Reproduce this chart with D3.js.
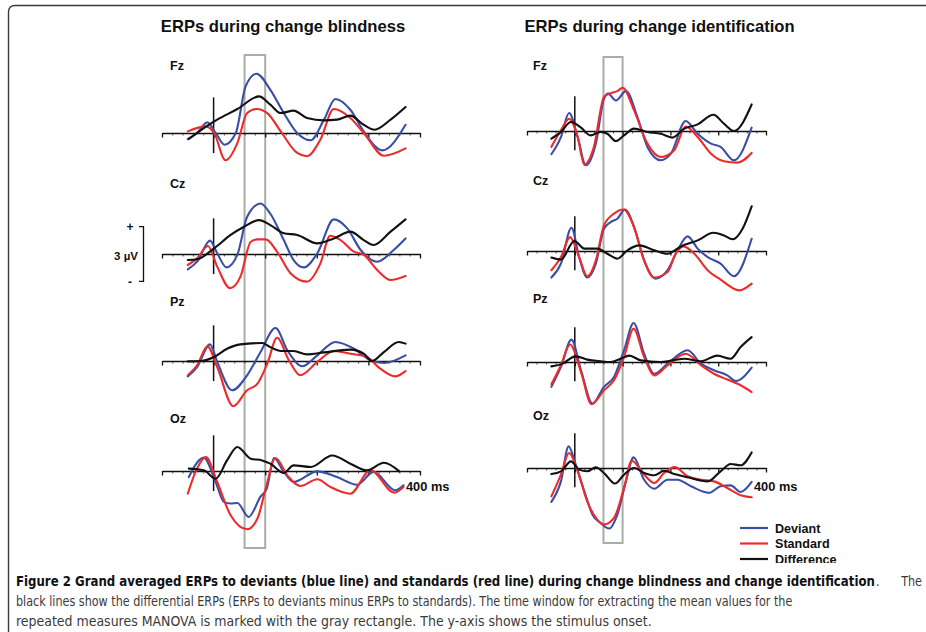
<!DOCTYPE html>
<html>
<head>
<meta charset="utf-8">
<script src="https://cdn.jsdelivr.net/npm/d3@7"></script>
<style>
  html, body { margin: 0; padding: 0; background: #fff; }
  svg { display: block; }
</style>
</head>
<body>
<svg id="fig" width="926" height="632"></svg>
<script>
// ---- data: grand-average ERPs, [time in ms, amplitude in µV] ----
const channels = ["Fz", "Cz", "Pz", "Oz"];
const conditionTitles = ["ERPs during change blindness", "ERPs during change identification"];
const seriesNames = ["Deviant", "Standard", "Difference"];
const timeTicks = [-100, 0, 100, 200, 300, 400];
const minorTicks = [-80, -60, -40, -20, 20, 40, 60, 80, 120, 140, 160, 180, 220, 240, 260, 280, 320, 340, 360, 380];
const analysisWindow = [60, 100];
const timeEndLabel = "400 ms";
const scaleBarLabel = "3 µV";
const scaleBarMicrovolts = 3;

// change blindness
const blindFzDeviant = [[-50,-0.33],[-32,0],[-12,0.58],[4,0],[21,-0.64],[43,0],[62,2.55],[83,3.24],[110,2.36],[136,1.09],[162,0],[188,-0.4],[214,0.73],[236,1.86],[265,1.27],[291,0.09],[327,-0.95],[372,0.45]];
const blindFzStandard = [[-50,0.09],[-15,0.36],[1,0],[23,-1.49],[46,-0.55],[65,1.09],[83,1.31],[104,1.09],[130,0.09],[162,-1.09],[181,-1.27],[207,-0.36],[233,1.31],[265,0.82],[291,0],[330,-1.24],[372,-0.84]];
const blindFzDifference = [[-48,-0.33],[-19,0.27],[7,0.73],[46,1.31],[88,2.0],[110,1.55],[130,1.09],[155,1.22],[181,0.82],[214,0.69],[239,0.73],[265,0.95],[291,0.45],[312,0.18],[343,0.73],[372,1.42]];

const blindCzDeviant = [[-50,-0.84],[-32,-0.42],[-7,0.73],[7,0.04],[25,-0.73],[46,-0.05],[65,2.04],[91,2.76],[110,2.2],[136,0.76],[155,-0.33],[175,-0.73],[201,0.04],[233,1.89],[259,1.4],[285,0.22],[317,-0.42],[349,0.22],[372,0.85]];
const blindCzStandard = [[-50,-0.6],[-32,-0.24],[-11,0.44],[7,-0.69],[32,-1.87],[52,-1.24],[72,0.67],[85,0.8],[101,0.8],[123,0.13],[149,-1.05],[181,-1.51],[207,-0.51],[226,1.0],[246,0.76],[272,0.13],[291,-0.05],[317,-0.87],[343,-1.42],[372,-1.2]];
const blindCzDifference = [[-50,-0.33],[-32,-0.29],[1,0.31],[33,1.04],[59,1.49],[88,1.85],[110,1.58],[136,1.13],[162,1.04],[201,0.58],[233,0.85],[265,1.22],[291,0.76],[310,0.49],[343,1.22],[372,1.89]];

const blindPzDeviant = [[-50,-0.84],[-32,-0.33],[-7,0.91],[7,-0.05],[36,-1.6],[65,-0.78],[91,0.49],[120,1.8],[143,0.58],[172,-0.29],[201,0.31],[236,1.04],[272,0.67],[304,0.04],[330,-0.11],[372,0.31]];
const blindPzStandard = [[-50,-0.78],[-32,-0.24],[-12,0.8],[7,-0.33],[38,-2.47],[65,-1.6],[85,-1.24],[104,-0.15],[123,1.27],[146,0.04],[168,-0.78],[201,-0.05],[233,0.55],[265,0.4],[297,0.22],[323,-0.42],[352,-0.84],[372,-0.55]];
const blindPzDifference = [[-50,-0.02],[-25,0],[1,0.22],[26,0.67],[52,0.91],[94,0.98],[110,0.76],[130,0.55],[155,0.55],[181,0.36],[214,0.47],[265,0.62],[291,0.4],[307,0],[330,0.49],[359,1.04],[372,0.95]];

const blindOzDeviant = [[-48,-0.33],[-19,0.73],[4,-0.6],[20,-1.69],[33,-1.78],[46,-1.75],[68,-2.51],[91,-1.4],[103,-0.96],[117,0.71],[136,-0.05],[155,-0.6],[201,-0.02],[239,-0.33],[278,-0.75],[310,-0.05],[352,-1.05],[368,-0.78]];
const blindOzStandard = [[-50,-1.24],[-35,-0.05],[-15,0.76],[7,-0.6],[33,-2.42],[65,-3.18],[85,-2.6],[101,-0.96],[120,0.71],[143,-0.24],[168,-0.82],[201,-0.45],[226,-0.87],[265,-1.24],[304,0.05],[350,-1.18],[368,-0.87]];
const blindOzDifference = [[-48,0.13],[-19,0.04],[4,-0.42],[26,0.58],[46,1.31],[72,0.67],[94,0.58],[110,0.4],[136,-0.11],[155,0.31],[188,0.22],[230,0.85],[265,0.4],[297,0.04],[330,0.45],[360,-0.02]];

// change identification
const identFzDeviant = [[-49,-1.27],[-29,-0.33],[-12,0.98],[6,-0.33],[23,-1.87],[44,-0.69],[61,1.76],[70,2.04],[86,1.67],[107,2.18],[131,0.76],[152,-0.87],[180,-1.6],[201,-1.24],[232,0.55],[257,-0.15],[285,-0.69],[305,-0.87],[333,-1.6],[370,0.18]];
const identFzStandard = [[-49,-0.87],[-29,0.04],[-12,0.67],[6,-0.33],[20,-1.84],[40,-0.87],[61,1.86],[75,2.07],[89,2.18],[100,2.36],[124,1.13],[152,-0.69],[180,-1.42],[208,-1.05],[232,0.25],[257,-0.33],[285,-1.24],[312,-1.65],[340,-1.73],[370,-1.2]];
const identFzDifference = [[-49,-0.42],[-29,-0.05],[-8,0.49],[13,0.18],[33,-0.24],[54,-0.05],[68,-0.15],[86,-0.55],[103,-0.24],[124,0.13],[152,-0.05],[180,-0.15],[204,-0.36],[229,0.13],[257,0.36],[290,0.89],[312,0.4],[333,0],[370,1.45]];

const identCzDeviant = [[-49,-1.45],[-29,-0.69],[-7,1.27],[9,-0.33],[26,-1.45],[44,-0.69],[61,1.22],[75,1.58],[89,1.76],[105,2.27],[124,1.31],[145,-0.51],[169,-1.51],[194,-1.05],[215,0.04],[236,0.8],[257,0.13],[278,-0.33],[305,-0.69],[333,-1.38],[370,0.67]];
const identCzStandard = [[-49,-1.05],[-29,-0.33],[-10,0.76],[9,-0.33],[26,-1.38],[44,-0.51],[61,1.4],[82,2.04],[102,2.27],[124,1.31],[145,-0.51],[166,-1.45],[194,-1.15],[211,-0.15],[227,0.25],[250,-0.15],[278,-1.05],[305,-1.56],[344,-2.15],[370,-1.78]];
const identCzDifference = [[-49,-0.36],[-29,-0.47],[-1,0.55],[20,0.13],[47,0.13],[68,-0.15],[89,-0.42],[110,0.04],[135,0.31],[166,0.04],[194,-0.15],[222,0.25],[257,0.58],[290,1.0],[312,0.85],[330,0.64],[351,1.22],[370,2.44]];

const identPzDeviant = [[-49,-1.36],[-29,-0.27],[-7,1.22],[13,-0.45],[37,-2.27],[61,-1.36],[82,-0.82],[103,0.64],[123,2.13],[145,0.45],[166,-0.64],[194,-0.09],[236,0.64],[264,-0.09],[291,-0.45],[319,-0.73],[337,-1.04],[370,-0.31]];
const identPzStandard = [[-49,-1.22],[-29,-0.18],[-10,0.96],[13,-0.55],[35,-2.31],[61,-1.55],[82,-1.0],[103,0.27],[123,1.82],[145,0.27],[167,-0.73],[194,-0.18],[232,0.45],[264,-0.18],[291,-0.64],[319,-0.96],[347,-1.27],[370,-1.64]];
const identPzDifference = [[-49,-0.24],[-29,-0.13],[2,0.31],[26,0.13],[54,0.04],[75,0],[96,0.18],[114,0.35],[138,0.09],[180,0],[229,0.18],[264,0.04],[298,0.35],[326,0.18],[347,0.82],[370,1.36]];

const identOzDeviant = [[-49,-1.85],[-29,-0.73],[-13,1.18],[2,0.18],[20,-1.27],[37,-2.55],[54,-3.0],[72,-3.31],[89,-2.55],[107,-0.73],[123,0.58],[145,-0.64],[166,-1.13],[194,-0.64],[215,-0.64],[243,-1.0],[281,-1.36],[305,-1.0],[326,-0.95],[347,-1.31],[370,-0.76]];
const identOzStandard = [[-49,-1.55],[-29,-0.36],[-12,0.82],[6,-0.18],[26,-1.82],[47,-2.82],[61,-3.09],[82,-2.73],[103,-1.09],[119,0.4],[145,-0.36],[166,-0.82],[187,-0.27],[209,0.05],[236,-0.45],[264,-0.64],[291,-0.73],[319,-1.09],[347,-1.49],[370,-1.6]];
const identOzDifference = [[-49,-0.33],[-29,-0.18],[-8,0.36],[9,-0.09],[26,-0.18],[44,0.04],[61,-0.27],[84,-0.85],[103,-0.36],[124,0],[145,-0.27],[166,-0.4],[187,-0.15],[208,-0.33],[236,-0.51],[278,-0.73],[305,-0.18],[326,0.22],[347,0.15],[370,0.85]];

const captionBold = "Figure 2 Grand averaged ERPs to deviants (blue line) and standards (red line) during change blindness and change identification";
const captionLines = [
  ". The",
  "black lines show the differential ERPs (ERPs to deviants minus ERPs to standards). The time window for extracting the mean values for the",
  "repeated measures MANOVA is marked with the gray rectangle. The y-axis shows the stimulus onset."
];

// ---- assemble panels ----
const panelData = [
  { Fz: [blindFzDeviant, blindFzStandard, blindFzDifference],
    Cz: [blindCzDeviant, blindCzStandard, blindCzDifference],
    Pz: [blindPzDeviant, blindPzStandard, blindPzDifference],
    Oz: [blindOzDeviant, blindOzStandard, blindOzDifference] },
  { Fz: [identFzDeviant, identFzStandard, identFzDifference],
    Cz: [identCzDeviant, identCzStandard, identCzDifference],
    Pz: [identPzDeviant, identPzStandard, identPzDifference],
    Oz: [identOzDeviant, identOzStandard, identOzDifference] }
];

// ---- layout / style ----
const colors = { Deviant: "#3a4ea6", Standard: "#ee2b2b", Difference: "#111111" };
const drawOrder = [0, 1, 2];
const pxPerMicrovolt = 18.3;
const columns = [
  { range: [162, 420], baselines: [133, 254, 361, 471], labelX: 170, labelDy: [-63, -66, -55, -48],
    titleX: 283, rectY: [55, 548], onsetUV: [1.95, -1.1], labelEnd: [406, 491] },
  { range: [527, 766], baselines: [131, 251, 362, 468], labelX: 533, labelDy: [-61, -66, -59, -48],
    titleX: 659.5, rectY: [57, 543], onsetUV: [1.9, -1.05], labelEnd: [754, 491] }
];

const svg = d3.select("#fig");
const font = "'Liberation Sans', Arial, Helvetica, sans-serif";

svg.append("defs").append("clipPath").attr("id", "plotClip")
  .append("rect").attr("x", 0).attr("y", 0).attr("width", 926).attr("height", 563);

// figure frame with rounded top-left corner
svg.append("path")
  .attr("d", "M8.5,632 L8.5,12 Q8.5,5.5 15,5.5 L926,5.5")
  .attr("fill", "none").attr("stroke", "#3a3a3a").attr("stroke-width", 1.4);

const plot = svg.append("g").attr("clip-path", "url(#plotClip)");

columns.forEach((col, ci) => {
  const x = d3.scaleLinear().domain([-100, 400]).range(col.range);
  const g = plot.append("g");

  g.append("text")
    .attr("x", col.titleX).attr("y", 32)
    .attr("text-anchor", "middle")
    .attr("font-family", font).attr("font-weight", "bold").attr("font-size", 16.6)
    .attr("fill", "#111")
    .text(conditionTitles[ci]);

  // analysis time window
  g.append("rect")
    .attr("x", x(analysisWindow[0])).attr("y", col.rectY[0])
    .attr("width", x(analysisWindow[1]) - x(analysisWindow[0]))
    .attr("height", col.rectY[1] - col.rectY[0])
    .attr("fill", "none").attr("stroke", "#a9aea6").attr("stroke-width", 2);

  channels.forEach((ch, ri) => {
    const base = col.baselines[ri];
    const y = d3.scaleLinear().domain([0, 1]).range([base, base - pxPerMicrovolt]);
    const cg = g.append("g");

    cg.append("text")
      .attr("x", col.labelX).attr("y", base + col.labelDy[ri])
      .attr("font-family", font).attr("font-weight", "bold").attr("font-size", 12.5)
      .attr("fill", "#111")
      .text(ch);

    // minor ticks
    cg.append("g").attr("transform", `translate(0,${base})`)
      .call(d3.axisBottom(x).tickValues(minorTicks).tickSize(2.5).tickSizeOuter(0).tickFormat(""))
      .call(a => a.select(".domain").remove())
      .call(a => a.selectAll("line").attr("stroke", "#222").attr("stroke-width", 0.8));
    // time axis
    cg.append("g").attr("transform", `translate(0,${base})`)
      .call(d3.axisBottom(x).tickValues(timeTicks).tickSize(4.5).tickSizeOuter(0).tickFormat(""))
      .call(a => a.select(".domain").attr("stroke", "#111").attr("stroke-width", 1.6))
      .call(a => a.selectAll("line").attr("stroke", "#111").attr("stroke-width", 1.3));

    // stimulus onset
    cg.append("line")
      .attr("x1", x(0)).attr("x2", x(0))
      .attr("y1", y(col.onsetUV[0])).attr("y2", y(col.onsetUV[1]))
      .attr("stroke", "#111").attr("stroke-width", 1.5);

    const line = d3.line().x(d => x(d[0])).y(d => y(d[1])).curve(d3.curveMonotoneX);
    const series = panelData[ci][ch];
    drawOrder.forEach(si => {
      cg.append("path")
        .datum(series[si])
        .attr("d", line)
        .attr("fill", "none")
        .attr("stroke", colors[seriesNames[si]])
        .attr("stroke-width", 2.1)
        .attr("stroke-linejoin", "round")
        .attr("stroke-linecap", "round");
    });
  });

  g.append("text")
    .attr("x", col.labelEnd[0]).attr("y", col.labelEnd[1])
    .attr("font-family", font).attr("font-weight", "bold").attr("font-size", 12.8)
    .attr("fill", "#111")
    .text(timeEndLabel);
});

// amplitude scale bar next to the blindness Cz trace
{
  const base = columns[0].baselines[1];
  const y = d3.scaleLinear().domain([0, 1]).range([base, base - pxPerMicrovolt]);
  const top = y(scaleBarMicrovolts / 2), bot = y(-scaleBarMicrovolts / 2);
  const sb = plot.append("g");
  sb.append("path")
    .attr("d", `M139,${top} H143.5 V${bot} H139`)
    .attr("fill", "none").attr("stroke", "#111").attr("stroke-width", 1.3);
  sb.append("text").attr("x", 130).attr("y", top + 4.5).attr("text-anchor", "middle")
    .attr("font-family", font).attr("font-weight", "bold").attr("font-size", 12).attr("fill", "#111").text("+");
  sb.append("text").attr("x", 130).attr("y", bot + 4.5).attr("text-anchor", "middle")
    .attr("font-family", font).attr("font-weight", "bold").attr("font-size", 12).attr("fill", "#111").text("-");
  sb.append("text").attr("x", 138).attr("y", base + 6).attr("text-anchor", "end")
    .attr("font-family", font).attr("font-weight", "bold").attr("font-size", 11.5).attr("fill", "#111").text(scaleBarLabel);
}

// legend
{
  const lg = plot.append("g");
  seriesNames.forEach((name, i) => {
    const yy = 528 + i * 15.5;
    lg.append("line").attr("x1", 740).attr("x2", 768).attr("y1", yy).attr("y2", yy)
      .attr("stroke", colors[name]).attr("stroke-width", 2.2);
    lg.append("text").attr("x", 775).attr("y", yy + 4.5)
      .attr("font-family", font).attr("font-weight", "bold").attr("font-size", 12.6).attr("fill", "#111")
      .text(name);
  });
}

// caption: condensed type, each line squeezed horizontally to its column width
{
  const capFont = "'DejaVu Sans Condensed', 'Liberation Sans Narrow', Arial, sans-serif";
  const cx = 16, size = 14.5;
  function captionLine(str, x0, y0, width, bold, fill, sxOverride) {
    const t = svg.append("text")
      .attr("x", 0).attr("y", 0)
      .attr("font-family", capFont).attr("font-size", size)
      .attr("font-weight", bold ? "bold" : "normal").attr("fill", fill)
      .text(str);
    const natural = t.node().getComputedTextLength();
    let sx = sxOverride || (width / natural);
    if (sxOverride && width > natural * sx) {
      // justified line end: widen the word gap rather than the glyphs
      t.attr("word-spacing", (width / sx - natural));
    }
    t.attr("transform", `translate(${x0},${y0}) scale(${sx},1)`);
    return sx;
  }
  captionLine(captionBold, cx, 586, 876 - cx, true, "#111");
  const sxNormal = captionLine(captionLines[1], cx, 606, 793 - cx, false, "#3a3a3a");
  captionLine(captionLines[2], cx, 626, 652 - cx, false, "#3a3a3a");
  captionLine(captionLines[0], 876, 586, 922 - 876, false, "#3a3a3a", sxNormal);
}
</script>
</body>
</html>
